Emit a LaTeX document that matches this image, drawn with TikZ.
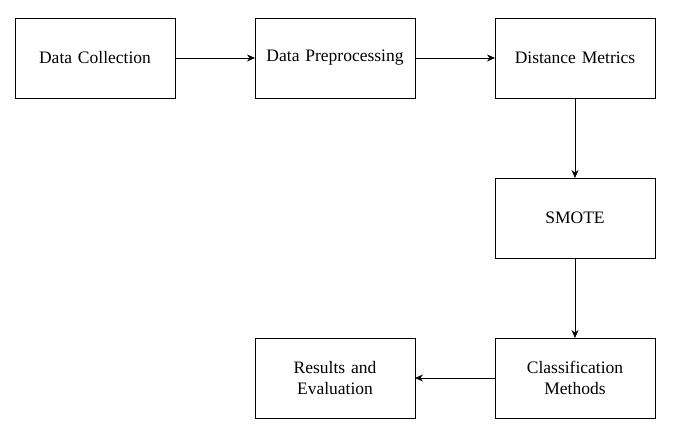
\documentclass[tikz,border=0pt]{standalone}
\usepackage{fontspec}
\setmainfont{Liberation Serif}
\usetikzlibrary{arrows.meta,positioning}

\begin{document}
\begin{tikzpicture}[
 >={Stealth[length=8pt,width=7pt]},font=\fontsize{17.5}{21}\selectfont,
 stage/.style={draw,line width=0.9pt,minimum width=160pt,minimum height=80pt,
   text width=150pt,align=center,inner sep=0pt,outer sep=0pt},
 flow/.style={->,line width=0.9pt}
]
\useasboundingbox (0,0) rectangle (674pt,-439pt);
\node[stage] (collection) at (95pt,-58pt) {Data Collection};
\node[stage,right=80pt of collection] (preprocessing) {Data Preprocessing};
\node[stage,right=80pt of preprocessing] (metrics) {Distance Metrics};
\node[stage,below=80pt of metrics] (smote) {SMOTE};
\node[stage,below=80pt of smote] (classification) {Classification\\Methods};
\node[stage,left=80pt of classification] (results) {Results and\\Evaluation};
\draw[flow] (collection) -- (preprocessing);
\draw[flow] (preprocessing) -- (metrics);
\draw[flow] (metrics) -- (smote);
\draw[flow] (smote) -- (classification);
\draw[flow] (classification) -- (results);
\end{tikzpicture}
\end{document}
